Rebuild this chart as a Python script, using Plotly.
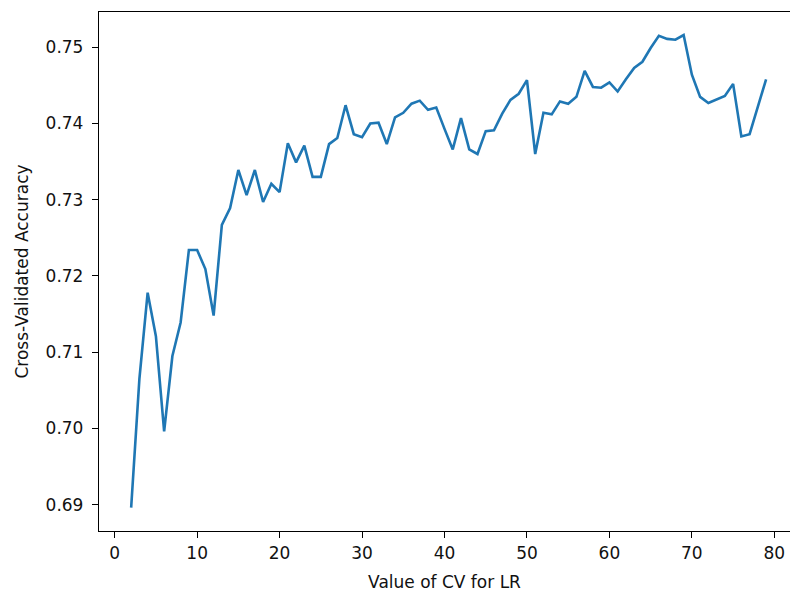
import plotly.graph_objects as go

cv_values = list(range(2, 80))
accuracy = [
    0.6896, 0.7065, 0.7178, 0.7121, 0.6996, 0.7095, 0.7139, 0.7234, 0.7234, 0.7209,
    0.7148, 0.7267, 0.7289, 0.7339, 0.7306, 0.7339, 0.7297, 0.7321, 0.7310, 0.7374,
    0.7349, 0.7371, 0.7330, 0.7330, 0.7373, 0.7381, 0.7424, 0.7386, 0.7382, 0.7400,
    0.7401, 0.7373, 0.7408, 0.7414, 0.7426, 0.7430, 0.7418, 0.7421, 0.7393, 0.7366,
    0.7407, 0.7366, 0.7360, 0.7390, 0.7391, 0.7413, 0.7431, 0.7439, 0.7457, 0.7360,
    0.7414, 0.7412, 0.7429, 0.7426, 0.7435, 0.7469, 0.7448, 0.7447, 0.7454, 0.7442,
    0.7458, 0.7473, 0.7481, 0.7499, 0.7515, 0.7511, 0.7510, 0.7516, 0.7464, 0.7435,
    0.7427, 0.7432, 0.7436, 0.7452, 0.7383, 0.7386, 0.7422, 0.7458,
]
x_ticks = [0, 10, 20, 30, 40, 50, 60, 70, 80]
y_ticks = [0.69, 0.70, 0.71, 0.72, 0.73, 0.74, 0.75]
x_title = "Value of CV for LR"
y_title = "Cross-Validated Accuracy"

fig = go.Figure(go.Scatter(
    x=cv_values, y=accuracy, mode="lines",
    line=dict(color="#1f77b4", width=2.6),
    showlegend=False,
))

font = dict(family="DejaVu Sans", size=17, color="#111111")
fig.update_layout(
    width=790, height=592,
    margin=dict(l=99, r=0, t=12, b=61, autoexpand=False),
    paper_bgcolor="white", plot_bgcolor="white",
    font=font,
)
fig.update_xaxes(
    range=[-1.9, 81.9], tickvals=x_ticks, ticktext=[str(v) for v in x_ticks],
    showgrid=False, zeroline=False, automargin=False,
    showline=True, linecolor="black", linewidth=1.3, mirror=True,
    ticks="outside", ticklen=6, tickwidth=1.3, tickcolor="black",
    title=dict(text=x_title, standoff=14, font=font),
    tickfont=font,
)
fig.update_yaxes(
    range=[0.68654, 0.75463], tickvals=y_ticks, ticktext=[f"{v:.2f}" for v in y_ticks],
    showgrid=False, zeroline=False, automargin=False,
    showline=True, linecolor="black", linewidth=1.3, mirror=False,
    ticks="outside", ticklen=6, tickwidth=1.3, tickcolor="black",
    ticklabelstandoff=5,
    title=dict(text=y_title, standoff=12, font=font),
    tickfont=font,
)
fig.write_html(
    "out.html",
    config={"displayModeBar": False},
    post_script="document.body.style.margin='0';document.body.style.overflow='hidden';",
)
